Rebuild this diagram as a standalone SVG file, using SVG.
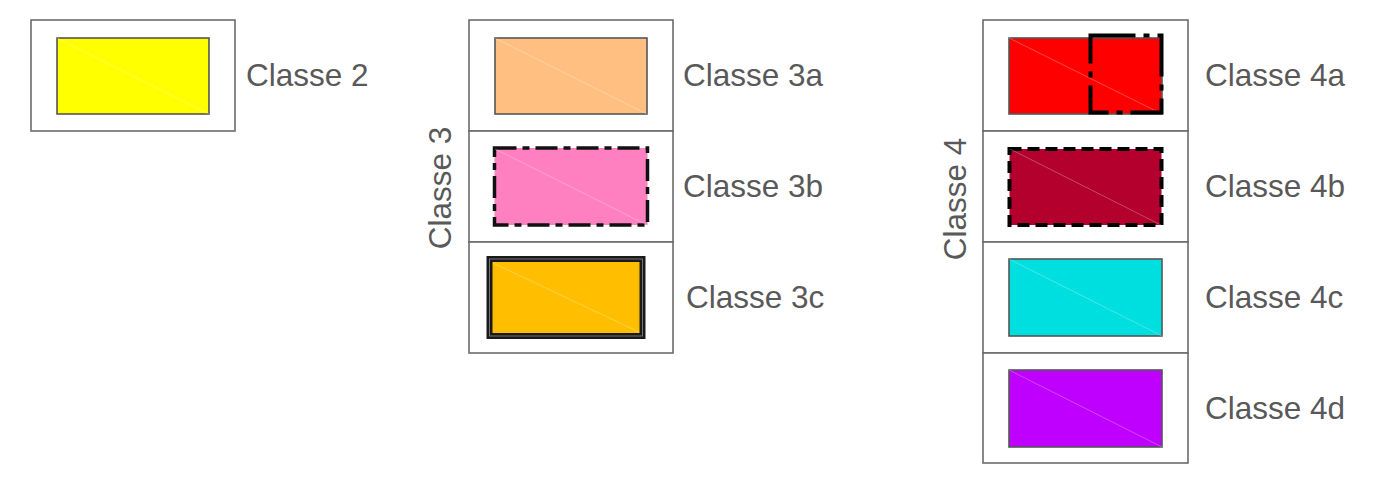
<svg xmlns="http://www.w3.org/2000/svg" width="1384" height="478" viewBox="0 0 1384 478">
<style>
.frame{fill:#fff;stroke:#6b6b6b;stroke-width:1.6}
.sw{stroke:#555;stroke-width:1.6}
.diag{stroke:#fff;stroke-opacity:0.35;stroke-width:0.8}
.lbl{font-family:"Liberation Sans",Arial,sans-serif;font-size:31.5px;fill:#595959}
</style>
<rect width="1384" height="478" fill="#fff"/>
<g id="classe2">
<rect class="frame" x="31" y="20" width="204" height="111"/>
<rect class="sw" x="57" y="38" width="152" height="76" fill="#ffff00"/>
<line class="diag" x1="57" y1="38" x2="209" y2="114"/>
<text class="lbl" x="246" y="86">Classe 2</text>
</g>
<g id="classe3">
<rect class="frame" x="469" y="20" width="204" height="111"/>
<rect class="frame" x="469" y="131" width="204" height="111"/>
<rect class="frame" x="469" y="242" width="204" height="111"/>
<text class="lbl" transform="translate(451,188) rotate(-90)" text-anchor="middle">Classe 3</text>
</g>
<g id="classe3a">
<rect class="sw" x="495" y="38" width="152" height="76" fill="#ffbf80"/>
<line class="diag" x1="495" y1="38" x2="647" y2="114"/>
<text class="lbl" x="683" y="86">Classe 3a</text>
</g>
<g id="classe3b">
<rect x="494.5" y="148" width="153" height="77" fill="#ff80c0" stroke="#111" stroke-width="3.5" stroke-dasharray="22 6 7 6"/>
<line class="diag" x1="495" y1="149" x2="647" y2="225"/>
<text class="lbl" x="683" y="197">Classe 3b</text>
</g>
<g id="classe3c">
<rect x="489.5" y="259" width="153" height="77" fill="#ffbf00" stroke="#1a1a1a" stroke-width="6"/>
<rect x="489.5" y="259" width="153" height="77" fill="none" stroke="#8a8a8a" stroke-width="0.8"/>
<line class="diag" x1="493" y1="263" x2="639" y2="332"/>
<text class="lbl" x="686" y="308">Classe 3c</text>
</g>
<g id="classe4">
<rect class="frame" x="983" y="20" width="205" height="111"/>
<rect class="frame" x="983" y="131" width="205" height="111"/>
<rect class="frame" x="983" y="242" width="205" height="111"/>
<rect class="frame" x="983" y="353" width="205" height="110"/>
<text class="lbl" transform="translate(966,199) rotate(-90)" text-anchor="middle">Classe 4</text>
</g>
<g id="classe4a">
<rect class="sw" x="1009" y="38" width="153" height="76" fill="#ff0000"/>
<line class="diag" x1="1009" y1="38" x2="1162" y2="114"/>
<rect x="1090.5" y="35.5" width="71" height="77" fill="none" stroke="#000" stroke-width="4" stroke-dasharray="45 8 6 8"/>
<text class="lbl" x="1205" y="86">Classe 4a</text>
</g>
<g id="classe4b">
<rect x="1009.5" y="149" width="152" height="76" fill="#b4002d" stroke="#000" stroke-width="4" stroke-dasharray="12 6"/>
<line class="diag" x1="1010" y1="149" x2="1161" y2="225"/>
<text class="lbl" x="1205" y="197">Classe 4b</text>
</g>
<g id="classe4c">
<rect class="sw" x="1009" y="259" width="153" height="77" fill="#00dfdf"/>
<line class="diag" x1="1009" y1="259" x2="1162" y2="336"/>
<text class="lbl" x="1205" y="308">Classe 4c</text>
</g>
<g id="classe4d">
<rect class="sw" x="1009" y="370" width="153" height="77" fill="#bf00ff"/>
<line class="diag" x1="1009" y1="370" x2="1162" y2="447"/>
<text class="lbl" x="1205" y="419">Classe 4d</text>
</g>
<g id="connectors"/>
</svg>
